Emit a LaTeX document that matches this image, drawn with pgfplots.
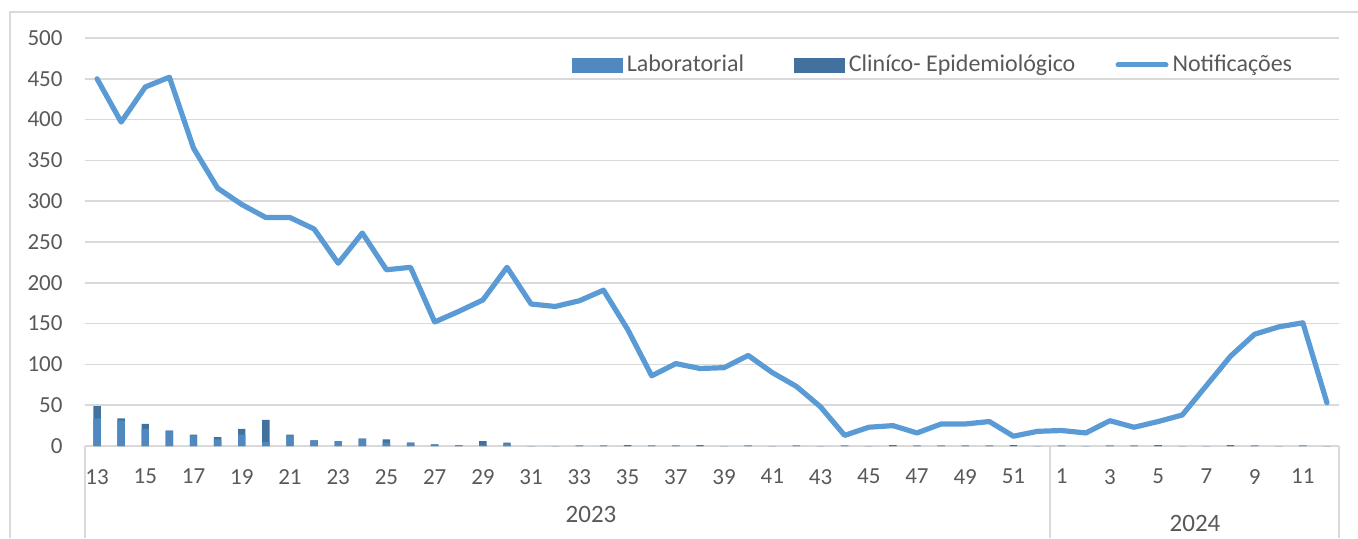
\documentclass[border=0pt]{standalone}
\usepackage{pgfplots}
\pgfplotsset{compat=1.18}
\usepackage{pgfplotstable}
\usepackage{fontspec}
\setmainfont{Carlito}
\definecolor{labcol}{RGB}{79,137,192}
\definecolor{clincol}{RGB}{65,113,156}
\definecolor{linecol}{RGB}{91,155,213}
\definecolor{gridgray}{RGB}{217,217,217}
\definecolor{textgray}{RGB}{89,89,89}

\pgfplotstableread{
idx lab clin notif
0 34 15 450
1 31 3 397
2 21 6 440
3 19 0 452
4 13 1 365
5 8 3 316
6 14 7 296
7 5 27 280
8 13 1 280
9 7 0 266
10 6 0 224
11 9 0 261
12 4 4 216
13 4 0 219
14 2 0 152
15 1 0 165
16 1 5 179
17 3 1 219
18 0 0 174
19 0 0 171
20 0.5 0 178
21 0.5 0 191
22 0 1 143
23 0.5 0 86
24 0.5 0 101
25 0 1 95
26 0 0 96
27 0.5 0 111
28 0 0 90
29 0.5 0 73
30 0 0 48
31 0.5 0 13
32 0 0 23
33 0 1 25
34 0.5 0 16
35 0.5 0 27
36 0.5 0 27
37 0.5 0 30
38 0 1 12
39 0 0 18
40 0.5 0 19
41 0 0 16
42 0.5 0 31
43 0.5 0 23
44 0 1 30
45 0 0 38
46 0 0 74
47 0 1 110
48 0.5 0 137
49 0 0 146
50 0.5 0 151
51 0 0 53
}\data

\begin{document}
\begin{tikzpicture}
\useasboundingbox (-42.5pt,-46pt) rectangle (636.5pt,223pt);
\begin{axis}[
  at={(0pt,0pt)}, anchor=south west,
  scale only axis,
  width=627pt, height=204pt,
  xmin=-0.5, xmax=51.5,
  ymin=0, ymax=500,
  xtick={0,2,...,50},
  xticklabels={13,15,17,19,21,23,25,27,29,31,33,35,37,39,41,43,45,47,49,51,1,3,5,7,9,11},
  ytick={0,50,...,500},
  axis x line*=bottom, axis y line*=left,
  x axis line style={draw=gridgray, line width=0.75pt, -},
  y axis line style={draw=none},
  ymajorgrids,
  major grid style={draw=gridgray, line width=0.75pt},
  major tick length=0pt,
  tick style={draw=none},
  /pgf/number format/assume math mode=true,
  ticklabel style={font=\fontsize{11.5}{13}\selectfont, text=textgray},
  xticklabel style={yshift=-8pt},
  yticklabel style={xshift=-7.7pt},
  legend style={at={(0.388,0.934)}, anchor=west, draw=none, fill=none,
    inner sep=0pt, font=\fontsize{12}{14}\selectfont, text=textgray,
    legend columns=3,
    /tikz/every even column/.append style={column sep=23pt}},
  legend cell align=left,
]
\addlegendimage{area legend, legend image code/.code={\fill[labcol] (0pt,-3.5pt) rectangle (25pt,3.5pt);}}
\addlegendentry{Laboratorial}
\addlegendimage{area legend, legend image code/.code={\fill[clincol] (0pt,-3.5pt) rectangle (25pt,3.5pt);}}
\addlegendentry{Cliníco- Epidemiológico\kern-5pt}
\addlegendimage{legend image code/.code={\draw[linecol, line width=2.5pt, line cap=round] (1pt,0pt) -- (25pt,0pt);}}
\addlegendentry{Notificações}
\addplot[ybar, bar width=3.7pt, bar shift=0pt, fill=clincol, draw=none, forget plot]
  table[x=idx, y expr=\thisrow{lab}+\thisrow{clin}] {\data};
\addplot[ybar, bar width=3.7pt, bar shift=0pt, fill=labcol, draw=none, forget plot]
  table[x=idx, y=lab] {\data};
\addplot[linecol, line width=2.6pt, line join=round, line cap=round, mark=none, forget plot]
  table[x=idx, y=notif] {\data};
\end{axis}
\node[font=\fontsize{12.5}{14}\selectfont, text=textgray] at (253pt,-34pt) {2023};
\node[font=\fontsize{12.5}{14}\selectfont, text=textgray] at (555pt,-38.5pt) {2024};
\draw[gridgray, line width=0.75pt] (0pt,0pt) -- (0pt,-46pt);
\draw[gridgray, line width=0.75pt] (482.5pt,0pt) -- (482.5pt,-46pt);
\draw[gridgray, line width=0.75pt] (627pt,0pt) -- (627pt,-46pt);
\draw[gridgray, line width=0.75pt] (-37.5pt,-46pt) -- (-37.5pt,217pt) -- (636.5pt,217pt);
\end{tikzpicture}
\end{document}
